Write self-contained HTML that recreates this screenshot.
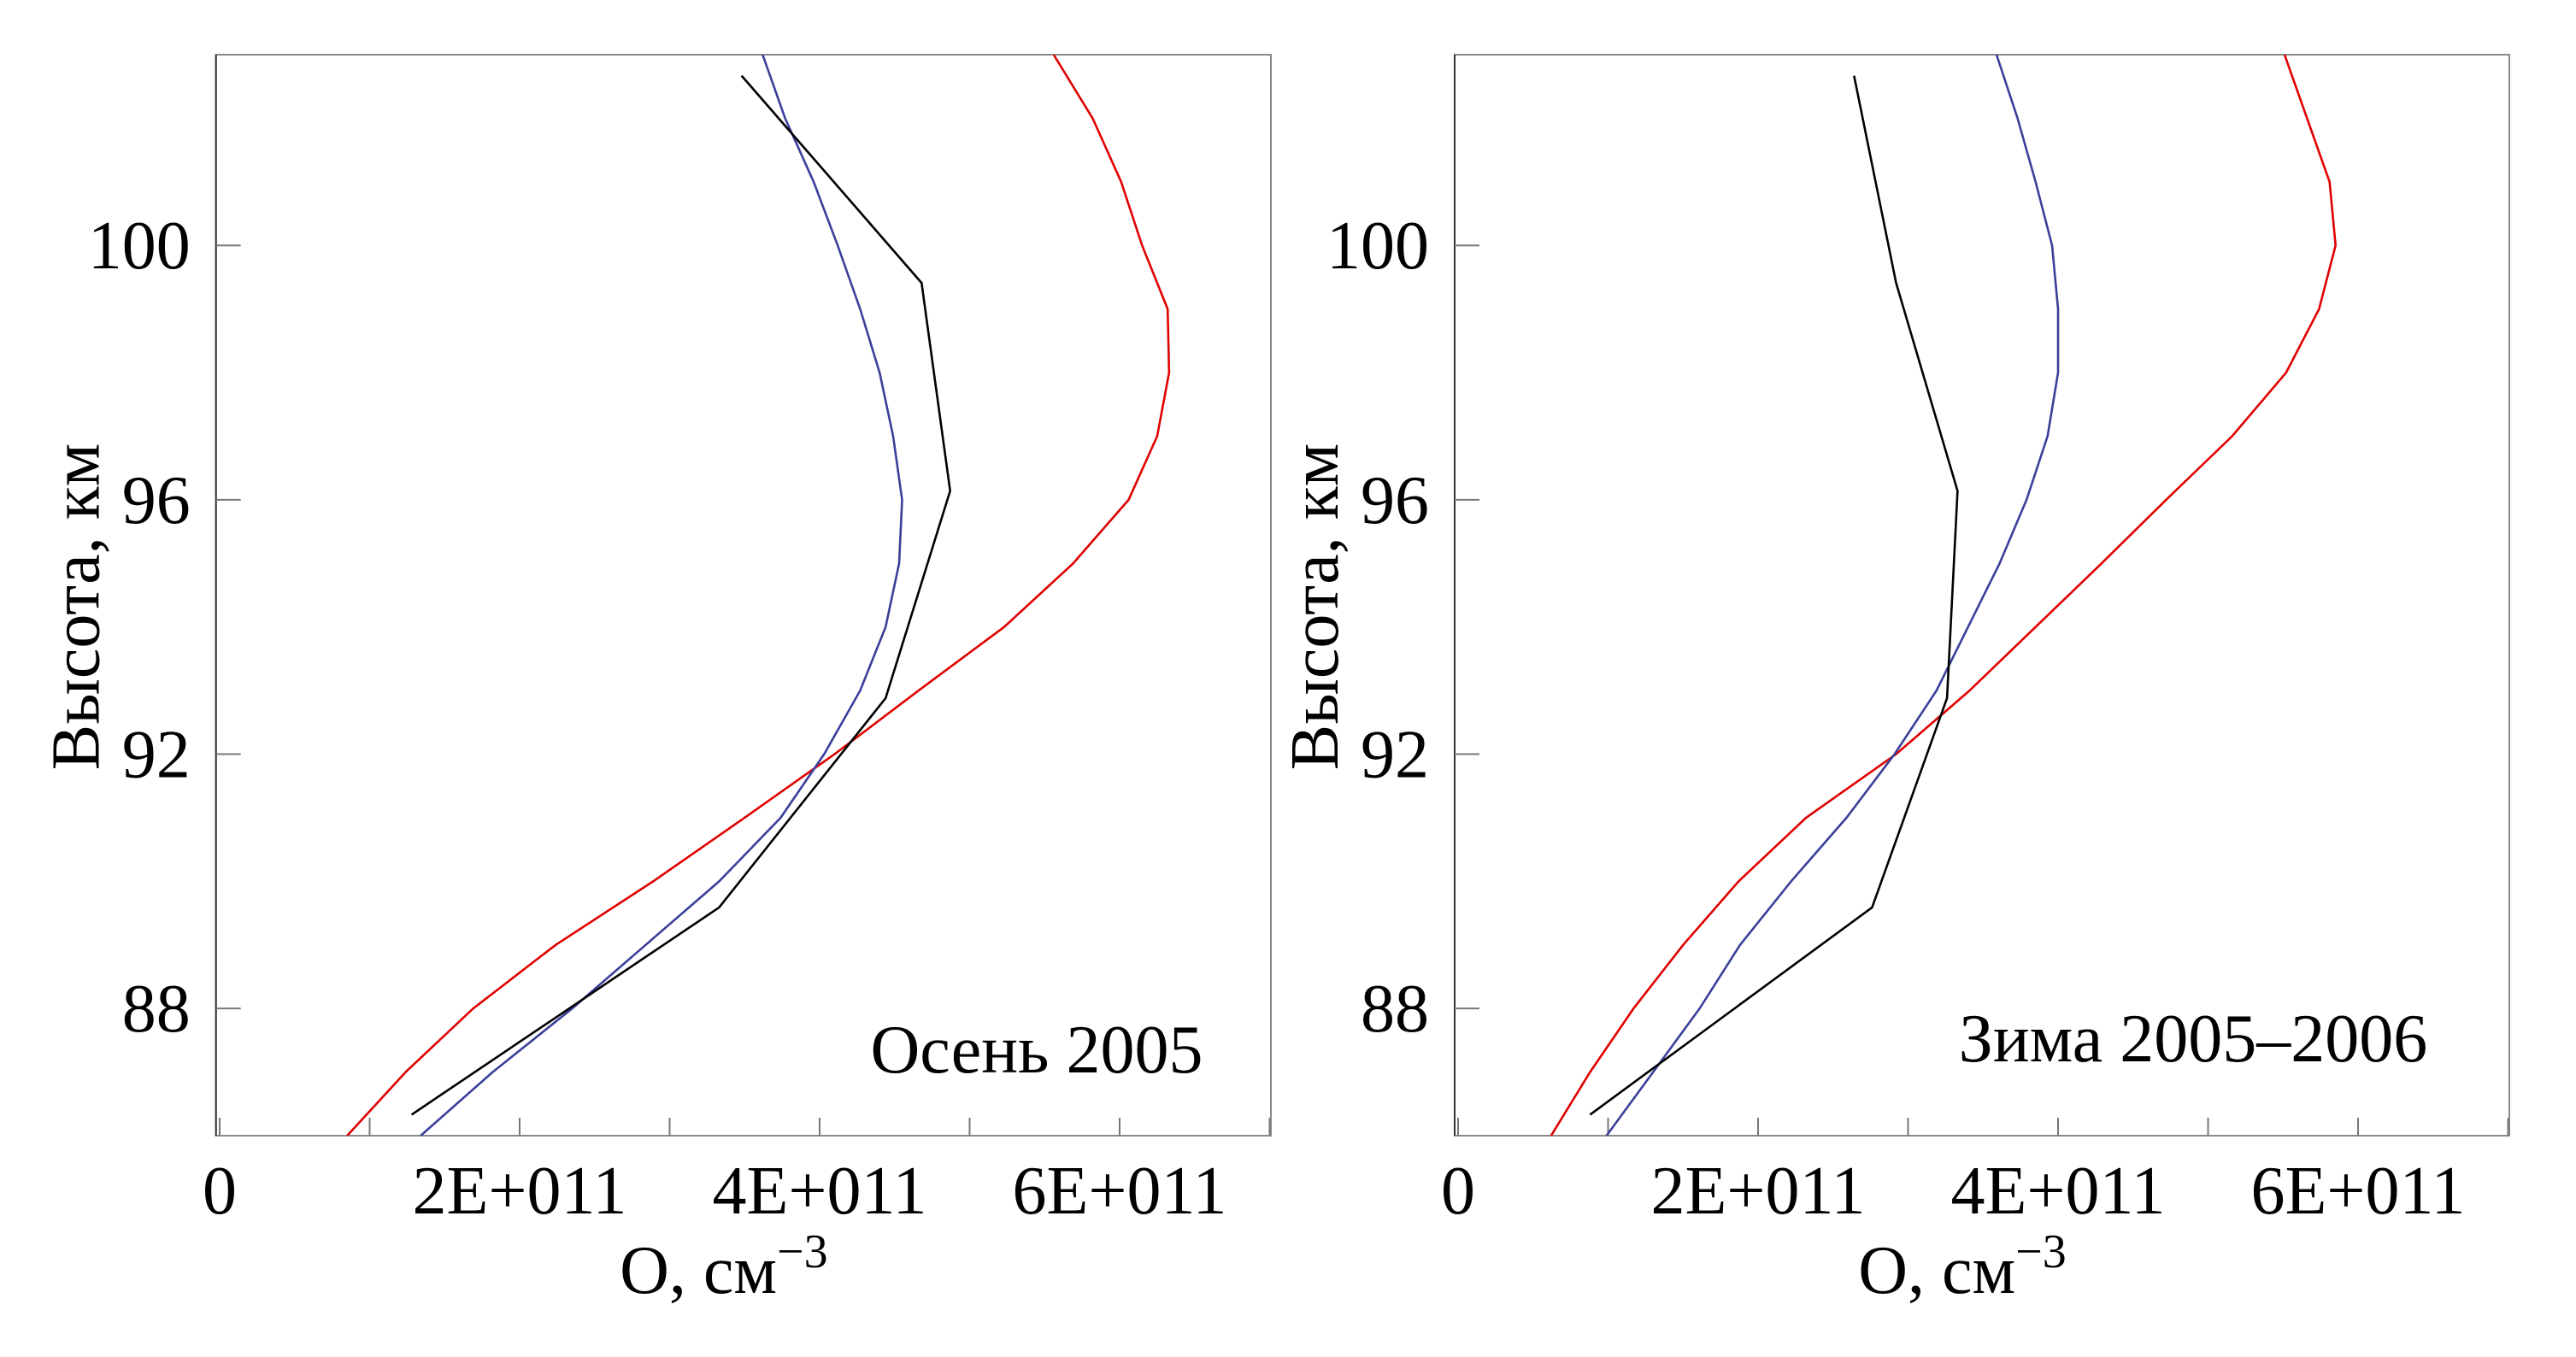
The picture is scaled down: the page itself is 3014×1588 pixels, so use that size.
<!DOCTYPE html>
<html><head><meta charset="utf-8"><style>
html,body{margin:0;padding:0;background:#fff;}
svg{display:block;}
text{font-family:"Liberation Serif",serif;fill:#000;}
</style></head><body>
<svg id="chart" width="3014" height="1588" viewBox="0 0 3014 1588" xmlns="http://www.w3.org/2000/svg"></svg>
<script>
const altInt = [103,102,101,100,99,98,97,96,95,94,93,92,91,90,89,88,87,86];
const altBlack = [102.67,99.41,96.14,92.88,89.59,86.33];
const autumnRed = [5.56,5.82,6.01,6.15,6.32,6.33,6.25,6.06,5.69,5.23,4.66,4.10,3.50,2.89,2.24,1.69,1.24,0.85];
const autumnBlue = [3.62,3.77,3.96,4.12,4.27,4.40,4.49,4.55,4.53,4.44,4.27,4.03,3.74,3.33,2.84,2.35,1.82,1.34];
const autumnBlack = [3.48,4.68,4.87,4.44,3.33,1.28];
const winterRed = [5.51,5.66,5.81,5.85,5.74,5.52,5.16,4.72,4.29,3.85,3.41,2.92,2.32,1.87,1.50,1.17,0.88,0.62];
const winterBlue = [3.59,3.73,3.85,3.96,4.00,4.00,3.93,3.79,3.61,3.40,3.19,2.91,2.59,2.22,1.88,1.61,1.30,0.99];
const winterBlack = [2.64,2.92,3.33,3.26,2.76,0.88];
const xTickVals = [0,2,4,6];
const xTickLabels = ["0","2E+011","4E+011","6E+011"];
const yTickVals = [88,92,96,100];

const NS="http://www.w3.org/2000/svg";
const svg=document.getElementById('chart');
function mk(tag,attrs,parent){const e=document.createElementNS(NS,tag);for(const k in attrs)e.setAttribute(k,attrs[k]);(parent||svg).appendChild(e);return e;}

function panel(id, x0pix, boxL, boxR, title, titleX, titleY, red, blue, black){
  const g=mk('g',{});
  
  
  const top=64, bot=1329;
  const xMin=(boxL-x0pix)/175.5, xMax=(boxR-x0pix)/175.5;
  const sx=v=>boxL+(v-xMin)/(xMax-xMin)*(boxR-boxL);
  const sy=a=>bot-(a-86)/(103-86)*(bot-top);
  const frame=mk('rect',{x:boxL,y:top,width:boxR-boxL,height:bot-top,fill:'none',stroke:'#8a8a8a','stroke-width':2},g);
  
  
  mk('line',{x1:boxL,y1:top,x2:boxL,y2:bot,stroke:'#333','stroke-width':2},g);
  for(let v=0;v<=7;v++){
    const t=mk('line',{x1:sx(v),y1:bot,x2:sx(v),y2:bot-21,stroke:'#777','stroke-width':2},g);
    
    
  }
  xTickVals.forEach((v,i)=>{
    const t=mk('text',{x:sx(v),y:1420,'font-size':80,'text-anchor':'middle'},g);
    t.textContent=xTickLabels[i];
    
    
  });
  yTickVals.forEach(a=>{
    const l=mk('line',{x1:boxL,y1:sy(a),x2:boxL+29,y2:sy(a),stroke:'#777','stroke-width':2},g);
    
    
    const t=mk('text',{x:boxL-30,y:sy(a)+27,'font-size':80,'text-anchor':'end'},g);
    t.textContent=String(a);
    
    
  });
  const yt=mk('text',{x:0,y:0,'font-size':80,'text-anchor':'middle',transform:`translate(${boxL-137},710) rotate(-90)`},g);
  yt.textContent='Высота, км';
  
  
  const xt=mk('text',{x:(boxL+boxR)/2-23,y:1513,'font-size':80,'text-anchor':'middle'},g);
  xt.innerHTML='О, см<tspan dy="-30" font-size="56">−3</tspan>';
  
  
  const an=mk('text',{x:titleX,y:titleY,'font-size':80,'text-anchor':'middle'},g);
  an.textContent=title;
  
  
  const cp=mk('clipPath',{id:id+'-clip'},g);
  mk('rect',{x:boxL,y:top,width:boxR-boxL,height:bot-top},cp);
  function line(vals,alts,color,name){
    const d=vals.map((v,i)=>(i?'L':'M')+sx(v).toFixed(1)+','+sy(alts[i]).toFixed(1)).join(' ');
    const p=mk('path',{d:d,fill:'none',stroke:color,'stroke-width':2.6,'clip-path':`url(#${id}-clip)`},g);
    
    
  }
  line(red,altInt,'#e00000',id+'-red-series');
  line(blue,altInt,'#3a3f9a',id+'-blue-series');
  line(black,altBlack,'#000',id+'-black-series');
}
panel('autumn',257,252.7,1487,'Осень 2005',1213,1255,autumnRed,autumnBlue,autumnBlack);
panel('winter',1706,1702,2936,'Зима 2005–2006',2566,1242,winterRed,winterBlue,winterBlack);
</script>
</body></html>
